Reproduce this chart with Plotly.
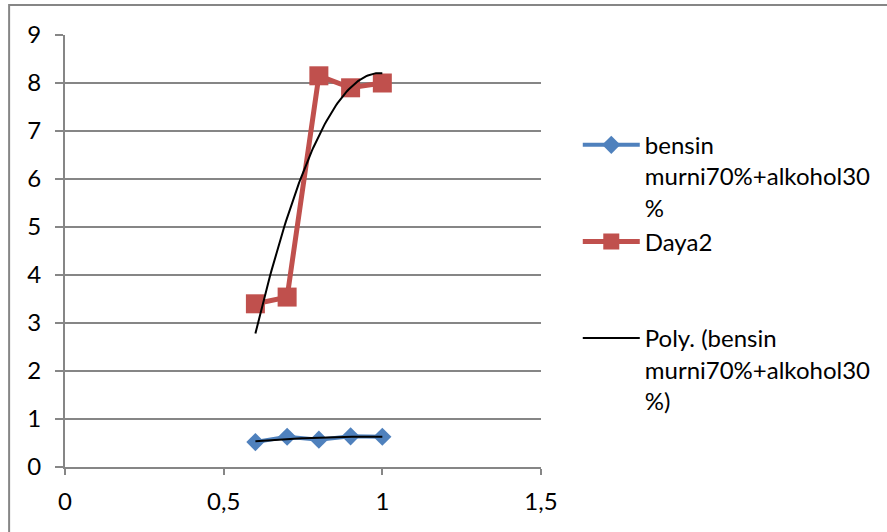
import numpy as np
import plotly.graph_objects as go

x_vals = [0.6, 0.7, 0.8, 0.9, 1.0]
bensin = [0.52, 0.63, 0.57, 0.64, 0.63]
daya2 = [3.40, 3.54, 8.15, 7.90, 8.00]

x_ticks = [0, 0.5, 1, 1.5]
x_tick_text = ["0", "0,5", "1", "1,5"]
y_ticks = list(range(0, 10))

FONT = "Lato"
GRAY = "#868686"
BLUE = "#4F81BD"
RED = "#C0504D"

# polynomial (order 2) trendlines, as computed by the spreadsheet
xf = np.linspace(min(x_vals), max(x_vals), 80)
fit_b = np.polyval(np.polyfit(x_vals, bensin, 2), xf)
fit_d = np.polyval(np.polyfit(x_vals, daya2, 2), xf)

fig = go.Figure()
fig.add_trace(go.Scatter(
    x=x_vals, y=bensin, mode="lines+markers",
    name="bensin<br>murni70%+alkohol30<br>%",
    line=dict(color=BLUE, width=4),
    marker=dict(symbol="diamond", size=14, color=BLUE),
))
fig.add_trace(go.Scatter(
    x=x_vals, y=daya2, mode="lines+markers",
    name="Daya2<br> <br> ",
    line=dict(color=RED, width=5),
    marker=dict(symbol="square", size=19, color=RED),
))
fig.add_trace(go.Scatter(
    x=xf, y=fit_b, mode="lines",
    name="Poly. (bensin<br>murni70%+alkohol30<br>%)",
    line=dict(color="black", width=2),
))
fig.add_trace(go.Scatter(
    x=xf, y=fit_d, mode="lines", showlegend=False,
    line=dict(color="black", width=2),
))

fig.update_layout(
    width=887, height=532,
    margin=dict(l=65, r=345, t=35, b=65),
    paper_bgcolor="white", plot_bgcolor="white",
    font=dict(family=FONT, size=24, color="black"),
    showlegend=True,
    legend=dict(
        x=1.075, y=0.797, xanchor="left", yanchor="top",
        valign="top", bgcolor="rgba(0,0,0,0)",
        font=dict(family=FONT, size=24, color="black"),
        itemwidth=57, tracegroupgap=0,
    ),
    xaxis=dict(
        range=[0, 1.5], tickvals=x_ticks, ticktext=x_tick_text,
        showgrid=False, zeroline=False,
        showline=True, linecolor=GRAY, linewidth=2,
        ticks="outside", ticklen=6, tickcolor=GRAY, tickwidth=2,
        ticklabelstandoff=6,
    ),
    yaxis=dict(
        range=[0, 9], tickvals=y_ticks,
        showgrid=True, gridcolor=GRAY, gridwidth=2, zeroline=False,
        showline=True, linecolor=GRAY, linewidth=2,
        ticks="outside", ticklen=8, tickcolor=GRAY, tickwidth=2,
        ticklabelstandoff=9,
    ),
    shapes=[dict(
        type="rect", xref="paper", yref="paper",
        x0=-0.1174, x1=2.0, y0=-0.5, y1=1.0694,
        line=dict(color=GRAY, width=2), fillcolor="rgba(0,0,0,0)", layer="below",
    )],
)

fig.write_html("out.html")
